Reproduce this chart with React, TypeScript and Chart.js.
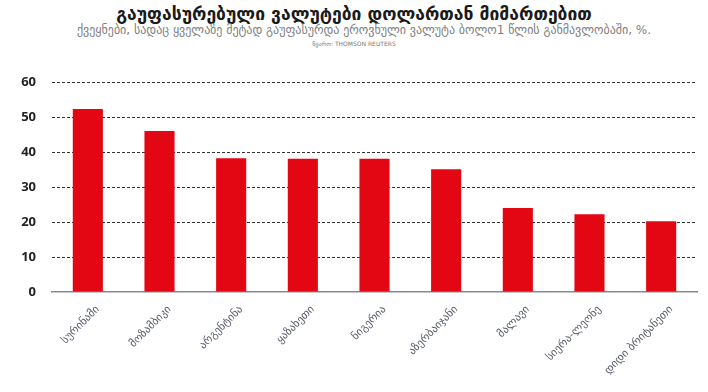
import React, { useEffect, useRef } from "react";
import { Chart, registerables } from "chart.js";

Chart.register(...registerables);

const titleText = "გაუფასურებული ვალუტები დოლართან მიმართებით";
const subtitleText = "ქვეყნები, სადაც ყველაზე მეტად გაუფასურდა ეროვნული ვალუტა ბოლო1 წლის განმავლობაში, %.";
const sourceText = "წყარო: THOMSON REUTERS";

const countries = [
  "სურინამი",
  "მოზამბიკი",
  "არგენტინა",
  "ყაზახეთი",
  "ნიგერია",
  "აზერბაიჯანი",
  "მალავი",
  "სიერა-ლეონე",
  "დიდი ბრიტანეთი",
];
const devaluation = [52.3, 46, 38.2, 38.1, 38.1, 35.1, 24, 22.2, 20.2];
const yTicks = [0, 10, 20, 30, 40, 50, 60];

export default function App() {
  const ref = useRef<HTMLCanvasElement | null>(null);
  useEffect(() => {
    if (!ref.current) return;
    const chart = new Chart(ref.current, {
      type: "bar",
      data: {
        labels: countries,
        datasets: [
          {
            data: devaluation,
            backgroundColor: "#e30613",
            borderWidth: 0,
            barPercentage: 0.42,
            categoryPercentage: 1,
          },
        ],
      },
      options: {
        animation: false,
        responsive: false,
        maintainAspectRatio: false,
        layout: { padding: { top: 82, left: 12, right: 11, bottom: 0 } },
        plugins: {
          legend: { display: false },
          tooltip: { enabled: false },
          title: { display: false },
        },
        scales: {
          x: {
            grid: { display: false, drawTicks: false },
            border: { display: true, color: "#8a8a8a", width: 1.5 },
            ticks: {
              color: "#5a5f6a",
              font: { family: "DejaVu Sans", size: 11 },
              minRotation: 45,
              maxRotation: 45,
              padding: 11,
              labelOffset: 10,
              autoSkip: false,
            },
            afterFit: (s: any) => {
              s.height = 100;
            },
          },
          y: {
            min: 0,
            max: 60,
            afterBuildTicks: (s: any) => {
              s.ticks = yTicks.map((v) => ({ value: v }));
            },
            grid: {
              color: (ctx: any) => (ctx.tick && ctx.tick.value === 0 ? "rgba(0,0,0,0)" : "#333"),
              drawTicks: false,
              lineWidth: 1,
            },
            border: { display: false, dash: [3, 2] },
            ticks: {
              color: "#222",
              font: { family: "Open Sans", size: 13, weight: "bold" },
              padding: 16,
            },
            afterFit: (s: any) => {
              s.width = 40;
            },
          },
        },
      },
    } as any);
    return () => chart.destroy();
  }, []);

  return (
    <div style={{ position: "fixed", left: 0, top: 0, width: 708, height: 392, background: "#fff" }}>
      <div
        style={{
          position: "absolute",
          top: 2,
          left: 0,
          width: 708,
          textAlign: "center",
          fontFamily: "DejaVu Sans",
          fontWeight: "bold",
          fontSize: 17.5,
          color: "#1a1a1a",
          lineHeight: "24px",
        }}
      >
        {titleText}
      </div>
      <div
        style={{
          position: "absolute",
          top: 22,
          left: 10,
          width: 708,
          textAlign: "center",
          fontFamily: "DejaVu Sans",
          fontSize: 12,
          color: "#808080",
          lineHeight: "16px",
          whiteSpace: "nowrap",
        }}
      >
        {subtitleText}
      </div>
      <div
        style={{
          position: "absolute",
          top: 40,
          left: 0,
          width: 708,
          textAlign: "center",
          fontFamily: "DejaVu Sans",
          fontSize: 6,
          color: "#777",
          lineHeight: "8px",
        }}
      >
        {sourceText}
      </div>
      <canvas ref={ref} width={708} height={392} style={{ position: "absolute", left: 0, top: 0 }} />
    </div>
  );
}
